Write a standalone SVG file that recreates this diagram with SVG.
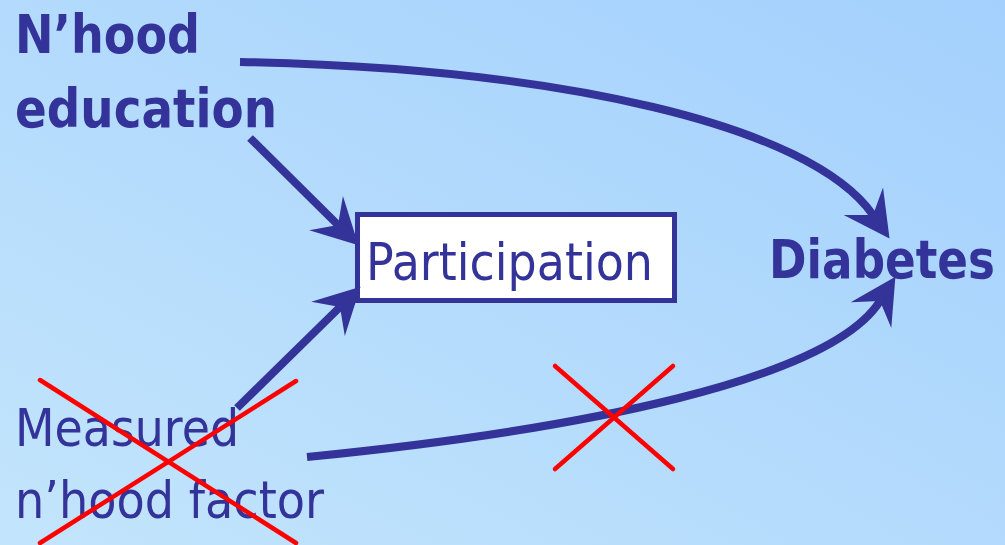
<svg xmlns="http://www.w3.org/2000/svg" width="1005" height="545" viewBox="0 0 1005 545">
  <defs>
    <linearGradient id="bg" x1="0" y1="1" x2="1" y2="0">
      <stop offset="0" stop-color="#c3e5fc"/>
      <stop offset="1" stop-color="#a3d0fd"/>
    </linearGradient>
    <!-- concave arrowhead; reference point sits at the notch -->
    <marker id="head" markerUnits="userSpaceOnUse" markerWidth="60" markerHeight="60" viewBox="-20 -25 50 50" refX="0" refY="0" orient="auto" overflow="visible">
      <path d="M24,0 L-14,-20 L0,0 L-14,20 Z" fill="#333399"/>
    </marker>
    <style>
      .lbl { font-family: "DejaVu Sans", "Liberation Sans", sans-serif; fill: #333399; }
      .bold { font-weight: bold; font-size: 54px; }
      .reg { font-size: 52px; }
      .edge { fill: none; stroke: #333399; stroke-width: 8; marker-end: url(#head); }
      .cross { stroke: #ff0000; stroke-width: 4.5; stroke-linecap: round; }
    </style>
  </defs>

  <rect width="1005" height="545" fill="url(#bg)"/>

  <g id="nhood-education">
    <text class="lbl bold" x="15" y="53" textLength="185" lengthAdjust="spacingAndGlyphs">N’hood</text>
    <text class="lbl bold" x="15" y="127" textLength="262" lengthAdjust="spacingAndGlyphs">education</text>
  </g>

  <g id="participation">
    <rect x="357.5" y="214.5" width="317" height="86" fill="#ffffff" stroke="#333399" stroke-width="5"/>
    <text class="lbl reg" x="366" y="280" textLength="287" lengthAdjust="spacingAndGlyphs">Participation</text>
  </g>

  <g id="diabetes">
    <text class="lbl bold" x="769" y="278" textLength="226" lengthAdjust="spacingAndGlyphs">Diabetes</text>
  </g>

  <g id="measured-factor">
    <text class="lbl reg" x="15" y="446" textLength="224" lengthAdjust="spacingAndGlyphs">Measured</text>
    <text class="lbl reg" x="15" y="518" textLength="309" lengthAdjust="spacingAndGlyphs">n’hood factor</text>
  </g>

  <g id="connectors">
    <path class="edge" d="M240,62 C560,68 810,125 873,215"/>
    <path class="edge" d="M250,138 L338,225"/>
    <path class="edge" d="M237,408 L340,307"/>
    <path class="edge" d="M307,457 C580,430 830,380 880,301"/>
  </g>

  <g id="crosses">
    <line class="cross" x1="40" y1="380" x2="296" y2="543"/>
    <line class="cross" x1="40" y1="543" x2="296" y2="381"/>
    <line class="cross" x1="555" y1="366" x2="673" y2="469"/>
    <line class="cross" x1="555" y1="469" x2="673" y2="366"/>
  </g>
</svg>
